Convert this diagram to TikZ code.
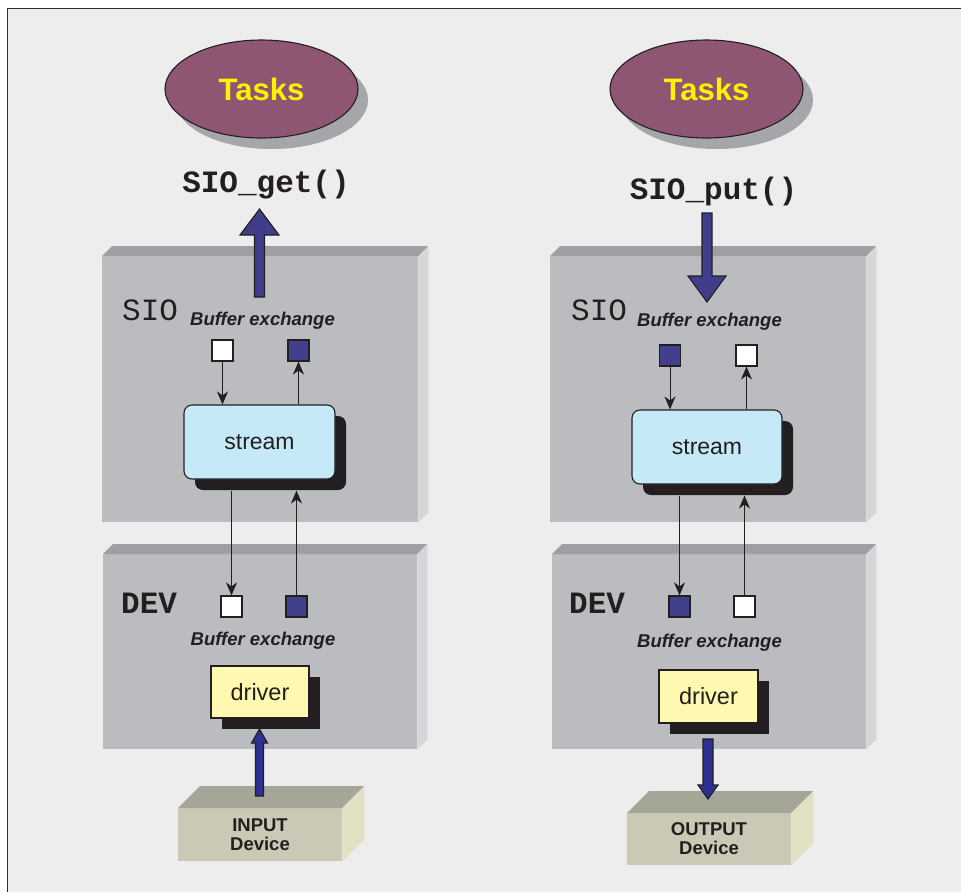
\documentclass[tikz,border=0pt]{standalone}
\usepackage{fontspec}
\setmainfont{Liberation Sans}
\newfontfamily\codefont{Liberation Mono}
\usetikzlibrary{arrows.meta,calc,shadows,shapes.geometric}

\definecolor{ink}{HTML}{231F20}
\definecolor{panel}{HTML}{EDEDED}
\definecolor{framecol}{HTML}{2E2E2E}
\definecolor{taskfill}{HTML}{8E5673}
\definecolor{taskshade}{HTML}{A5A6A9}
\definecolor{taskyellow}{HTML}{FFF200}
\definecolor{slabfront}{HTML}{BBBCC0}
\definecolor{slabtop}{HTML}{9E9FA3}
\definecolor{slabside}{HTML}{D5D6D9}
\definecolor{bufblue}{HTML}{423F8C}
\definecolor{bigblue}{HTML}{403E8A}
\definecolor{ioblue}{HTML}{2E3192}
\definecolor{streamfill}{HTML}{C6E9F8}
\definecolor{driverfill}{HTML}{FFF8B0}
\definecolor{devfront}{HTML}{C9C9B5}
\definecolor{devtop}{HTML}{A5A698}
\definecolor{devside}{HTML}{E3E1C3}

% a flat-shaded 3D slab: front face node plus top and right faces
\newcommand{\slabbox}[9]{%
  \node[fill=#7, inner sep=0pt, minimum width=#4pt, minimum height=#5pt,
        anchor=north west] (#1) at (#2,#3) {};
  \fill[#8] (#1.north west) -- ++(#6,-#6) -- ($(#1.north east)+(#6,-#6)$)
            -- (#1.north east) -- cycle;
  \fill[#9] (#1.north east) -- ++(#6,-#6) -- ($(#1.south east)+(#6,-#6)$)
            -- (#1.south east) -- cycle;
}

% a vertical outlined block arrow from #1 to #2
% #3 shaft half width, #4 head half width, #5 head length, #6 fill
\newcommand{\blockarrow}[6]{%
  \draw[ink, line width=1.1pt, fill=#6, line join=miter]
    let \p1=(#1), \p2=(#2), \p3=($(#2)!#5pt!(#1)$) in
    (\x1-#3pt,\y1) -- (\x1-#3pt,\y3) -- (\x1-#4pt,\y3)
    -- (\x2,\y2) -- (\x1+#4pt,\y3) -- (\x1+#3pt,\y3)
    -- (\x1+#3pt,\y1) -- cycle;
}

\tikzset{
  tasks/.style={ellipse, fill=taskfill, draw=ink, line width=1.1pt,
    minimum width=193pt, minimum height=98pt, inner sep=0pt,
    font=\fontsize{31}{36}\selectfont\bfseries, text=taskyellow,
    drop shadow={shadow xshift=10pt, shadow yshift=-11pt, fill=taskshade, opacity=1}},
  callname/.style={anchor=base, inner sep=0pt, text=ink,
    font=\codefont\fontsize{31}{36}\selectfont\bfseries},
  layertag/.style={anchor=base west, inner sep=0pt, text=ink,
    font=\codefont\fontsize{31}{36}\selectfont},
  layertagbold/.style={layertag, font=\codefont\fontsize{31}{36}\selectfont\bfseries},
  exchange/.style={anchor=base, inner sep=0pt, text=ink,
    font=\fontsize{18.5}{22}\selectfont\bfseries\itshape},
  buf/.style={rectangle, minimum size=21pt, inner sep=0pt, draw=ink, line width=1.1pt},
  bufempty/.style={buf, fill=white},
  buffull/.style={buf, fill=bufblue},
  streambox/.style={rectangle, rounded corners=8pt, fill=streamfill, draw=ink,
    line width=1.1pt, minimum width=151pt, minimum height=74pt, inner sep=0pt,
    font=\fontsize{23}{28}\selectfont, text=ink,
    drop shadow={shadow xshift=11pt, shadow yshift=-11pt, fill=ink, opacity=1}},
  driverbox/.style={rectangle, fill=driverfill, draw=ink, line width=1.1pt,
    minimum width=98pt, minimum height=52pt, inner sep=0pt,
    font=\fontsize{23.5}{28}\selectfont, text=ink,
    drop shadow={shadow xshift=11pt, shadow yshift=-11pt, fill=ink, opacity=1}},
  devlabel/.style={align=center, inner sep=0pt, text=ink,
    font=\fontsize{18.5}{19}\selectfont\bfseries},
  conn/.style={draw=ink, line width=1pt,
    -{Stealth[length=13pt, width=11pt, inset=4pt]}},
}

\begin{document}
\begin{tikzpicture}[x=1pt, y=-1pt]
  \useasboundingbox (0,0) rectangle (961,892);
  % page and framed panel
  \fill[white] (0,0) rectangle (961,892);
  \fill[panel] (7.5,8.5) rectangle (961,892);
  \draw[framecol, line width=1.5pt] (7.5,892) -- (7.5,8.5) -- (961,8.5);

  % ---------------- input path (left) ----------------
  \node[tasks] (tasksL) at (261.5,89) {Tasks};
  \node[callname] (getLabel) at (266,192) {SIO\_get()};

  \slabbox{sioL}{102}{256}{316}{266}{10}{slabfront}{slabtop}{slabside}
  \coordinate (getFoot) at (259.5,297);
  \coordinate (getTip) at (259.5,209);
  \blockarrow{getFoot}{getTip}{5}{19.5}{26}{bigblue}

  \node[layertag] (sioTagL) at (122,320) {SIO};
  \node[exchange] (xSioL) at (262.5,325) {Buffer exchange};
  \node[bufempty] (bufSL1) at (222.5,350.5) {};
  \node[buffull] (bufSL2) at (298.5,350.5) {};
  \node[streambox] (streamL) at (259.5,442) {stream};
  \coordinate (streamLfoot) at ([yshift=-11pt]streamL.south);
  \draw[conn] (bufSL1.south) -- (bufSL1.south |- streamL.north);
  \draw[conn] (streamL.north -| bufSL2) -- (bufSL2.south);

  \slabbox{devL}{103}{554}{314}{195}{10}{slabfront}{slabtop}{slabside}
  \node[layertagbold] (devTagL) at (121,613) {DEV};
  \node[bufempty] (bufDL1) at (231.5,606.5) {};
  \node[buffull] (bufDL2) at (296.5,606.5) {};
  \node[exchange] (xDevL) at (263,645) {Buffer exchange};
  \draw[conn] (bufDL1.north |- streamLfoot) -- (bufDL1.north);
  \draw[conn] (bufDL2.north) -- (bufDL2.north |- streamLfoot);
  \node[driverbox] (drvL) at (260,692) {driver};

  \slabbox{inDev}{178}{808}{164}{53}{22}{devfront}{devtop}{devside}
  \node[devlabel] (inLabel) at (260,834.5) {INPUT\\Device};
  \coordinate (inFoot) at (259.5,796);
  \coordinate (inTip) at (259.5,729);
  \blockarrow{inFoot}{inTip}{4}{8}{14}{ioblue}

  % ---------------- output path (right) ----------------
  \node[tasks] (tasksR) at (706.5,89) {Tasks};
  \node[callname] (putLabel) at (713.5,199) {SIO\_put()};

  \slabbox{sioR}{550}{256}{316}{266}{10}{slabfront}{slabtop}{slabside}
  \coordinate (putFoot) at (707,213);
  \coordinate (putTip) at (707,302);
  \blockarrow{putFoot}{putTip}{5}{19}{26}{bigblue}

  \node[layertag] (sioTagR) at (571,320) {SIO};
  \node[exchange] (xSioR) at (709.5,326) {Buffer exchange};
  \node[buffull] (bufSR1) at (670,355.5) {};
  \node[bufempty] (bufSR2) at (746.5,355.5) {};
  \node[streambox, minimum width=150pt] (streamR) at (707,447) {stream};
  \coordinate (streamRfoot) at ([yshift=-11pt]streamR.south);
  \draw[conn] (bufSR1.south) -- (bufSR1.south |- streamR.north);
  \draw[conn] (streamR.north -| bufSR2) -- (bufSR2.south);

  \slabbox{devR}{552}{554}{314}{195}{10}{slabfront}{slabtop}{slabside}
  \node[layertagbold] (devTagR) at (569,613) {DEV};
  \node[buffull] (bufDR1) at (679.5,606.5) {};
  \node[bufempty] (bufDR2) at (744.5,606.5) {};
  \node[exchange] (xDevR) at (709.5,647) {Buffer exchange};
  \draw[conn] (bufDR1.north |- streamRfoot) -- (bufDR1.north);
  \draw[conn] (bufDR2.north) -- (bufDR2.north |- streamRfoot);
  \node[driverbox, minimum width=99pt, minimum height=53pt] (drvR) at (708.5,696.5) {driver};

  \slabbox{outDev}{627}{813}{164}{52}{22}{devfront}{devtop}{devside}
  \node[devlabel] (outLabel) at (709,838.5) {OUTPUT\\Device};
  \coordinate (outFoot) at (708,739);
  \coordinate (outTip) at (708,799);
  \blockarrow{outFoot}{outTip}{5}{10}{14}{ioblue}
\end{tikzpicture}
\end{document}
